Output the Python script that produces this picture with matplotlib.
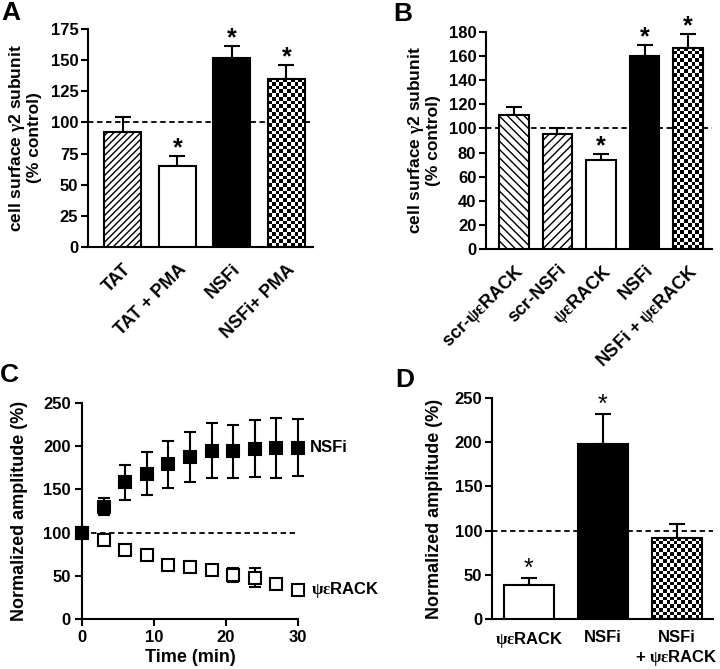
import numpy as np
import matplotlib
matplotlib.use("Agg")
import matplotlib.pyplot as plt

plt.rcParams['font.family'] = ['Liberation Sans', 'DejaVu Sans']
plt.rcParams['font.weight'] = 'bold'
plt.rcParams['axes.labelweight'] = 'bold'
plt.rcParams['mathtext.fontset'] = 'custom'
plt.rcParams['mathtext.rm'] = 'Liberation Serif'
plt.rcParams['mathtext.it'] = 'Liberation Serif:italic'
plt.rcParams['mathtext.bf'] = 'Liberation Serif:bold'
plt.rcParams['hatch.linewidth'] = 1.0
plt.rcParams['axes.linewidth'] = 1.5

PE = r'$\mathrm{ψε}$'

# ---------------- data ----------------
a_labels = ['TAT', 'TAT + PMA', 'NSFi', 'NSFi+ PMA']
a_values = [92, 65, 152, 135]
a_err = [12, 8, 9, 11]
a_sig = [False, True, True, True]

b_labels = ['scr-' + PE + 'RACK', 'scr-NSFi', PE + 'RACK', 'NSFi', 'NSFi + ' + PE + 'RACK']
b_values = [111, 95, 74, 160, 167]
b_err = [7, 5, 5, 9, 11]
b_sig = [False, False, True, True, True]

c_time = [0, 3, 6, 9, 12, 15, 18, 21, 24, 27, 30]
c_nsfi = [100, 130, 158, 168, 179, 188, 195, 194, 197, 198, 198]
c_nsfi_err = [0, 10, 20, 25, 27, 29, 32, 31, 33, 35, 33]
c_rack = [100, 91, 80, 74, 63, 60, 57, 51, 48, 41, 34]
c_rack_err = [0, 2, 5, 3, 3, 3, 5, 8, 11, 5, 5]

d_labels = [PE + 'RACK', 'NSFi', 'NSFi\n+ ' + PE + 'RACK']
d_values = [38, 198, 92]
d_err = [8, 34, 15]
d_sig = [True, True, False]

fig = plt.figure(figsize=(7.2, 6.69), dpi=100)

TICK_FS = 12
LAB_FS = 12.5


def style_axes(ax):
    for s in ['top', 'right']:
        ax.spines[s].set_visible(False)
    ax.tick_params(axis='y', direction='out', length=5, width=1.5, labelsize=TICK_FS, pad=2)
    ax.tick_params(axis='x', direction='out', length=0, width=1.5, labelsize=TICK_FS)


def checker(ax, bar, sq=3.7):
    x0, y0 = bar.get_x(), bar.get_y()
    w, h = bar.get_width(), bar.get_height()
    p0 = ax.transData.transform((x0, y0))
    p1 = ax.transData.transform((x0 + w, y0 + h))
    nc = max(1, int(round(abs(p1[0] - p0[0]) / sq)))
    nr = max(1, int(round(abs(p1[1] - p0[1]) / sq)))
    arr = np.add.outer(np.arange(nr), np.arange(nc)) % 2
    im = ax.imshow(arr, cmap='gray', vmin=0, vmax=1, extent=(x0, x0 + w, y0, y0 + h),
                   aspect='auto', interpolation='nearest', origin='lower', zorder=2.5)
    im.set_clip_path(bar)


def bar_panel(ax, values, errs, styles, xlim, ylim, width=0.68):
    ax.set_xlim(*xlim)
    ax.set_ylim(*ylim)
    x = np.arange(len(values))
    ax.axhline(100, color='black', lw=1.3, ls=(0, (3, 2)), zorder=1)
    ax.errorbar(x, values, yerr=[np.zeros(len(errs)), errs], fmt='none', ecolor='black',
                elinewidth=1.5, capsize=5.5, capthick=1.5, zorder=2)
    for xi, v, st in zip(x, values, styles):
        if st == 'black':
            ax.bar(xi, v, width, color='black', edgecolor='black', lw=1.5, zorder=3)
        elif st == 'white':
            ax.bar(xi, v, width, color='white', edgecolor='black', lw=1.5, zorder=3)
        elif st == 'checker':
            b = ax.bar(xi, v, width, color='white', edgecolor='none', lw=0, zorder=2.4)[0]
            checker(ax, b)
            ax.bar(xi, v, width, fill=False, edgecolor='black', lw=1.5, zorder=3)
        else:
            ax.bar(xi, v, width, color='white', edgecolor='black', hatch=st, lw=1.5, zorder=3)
    ax.set_xlim(*xlim)
    ax.set_ylim(*ylim)
    return x


def stars(ax, xs, values, errs, sig, weight, off=-3):
    for xi, v, e, s in zip(xs, values, errs, sig):
        if s:
            ax.annotate('*', (xi, v + e), xytext=(0, off), textcoords='offset points', ha='center',
                        va='bottom', fontsize=18, fontweight=weight)


YLAB_AB = 'cell surface $\\mathrm{γ}$2 subunit\n(% control)'

# ---------------- Panel A ----------------
axA = fig.add_axes([88 / 720, 1 - 247 / 669, 225 / 720, 218 / 669])
style_axes(axA)
xa = bar_panel(axA, a_values, a_err, ['/////', 'white', 'black', 'checker'], (-0.64, 3.49), (0, 175))
axA.set_yticks([0, 25, 50, 75, 100, 125, 150, 175])
axA.set_xticks(xa)
axA.set_xticklabels(a_labels, rotation=45, ha='right', rotation_mode='anchor', fontsize=13)
axA.tick_params(axis='x', pad=10)
axA.set_ylabel(YLAB_AB, fontsize=LAB_FS, linespacing=1.0)
axA.yaxis.set_label_coords(-0.205, 0.5)
stars(axA, xa, a_values, a_err, a_sig, 'bold')

# ---------------- Panel B ----------------
axB = fig.add_axes([486 / 720, 1 - 249 / 669, 226 / 720, 217 / 669])
style_axes(axB)
xb = bar_panel(axB, b_values, b_err, ['\\\\\\\\', '////', 'white', 'black', 'checker'], (-0.64, 4.55), (0, 180))
axB.set_yticks(np.arange(0, 181, 20))
axB.set_xticks(xb)
axB.set_xticklabels(b_labels, rotation=45, ha='right', rotation_mode='anchor', fontsize=13)
axB.tick_params(axis='x', pad=9)
axB.set_ylabel(YLAB_AB, fontsize=LAB_FS, linespacing=1.0)
axB.yaxis.set_label_coords(-0.2, 0.5)
stars(axB, xb, b_values, b_err, b_sig, 'bold')

# ---------------- Panel C ----------------
axC = fig.add_axes([82 / 720, 1 - 619 / 669, 216 / 720, 216 / 669])
for s in ['top', 'right']:
    axC.spines[s].set_visible(False)
axC.tick_params(direction='out', length=5, width=1.5, labelsize=TICK_FS, pad=3)
axC.set_xlim(0, 30)
axC.set_ylim(0, 250)
axC.plot([0, 30], [100, 100], color='black', lw=1.3, ls=(0, (3, 2)), zorder=1)
axC.errorbar(c_time, c_rack, yerr=c_rack_err, fmt='s', mfc='white', mec='black', mew=1.5, ms=8,
             ecolor='black', elinewidth=1.5, capsize=4.5, capthick=1.5, zorder=3, clip_on=False)
axC.errorbar(c_time, c_nsfi, yerr=c_nsfi_err, fmt='s', mfc='black', mec='black', mew=1.5, ms=8,
             ecolor='black', elinewidth=1.5, capsize=4.5, capthick=1.5, zorder=4, clip_on=False)
axC.set_xticks([0, 10, 20, 30])
axC.set_yticks([0, 50, 100, 150, 200, 250])
axC.set_xlabel('Time (min)', fontsize=LAB_FS + 0.5, labelpad=3)
axC.set_ylabel('Normalized amplitude (%)', fontsize=LAB_FS + 0.5)
axC.yaxis.set_label_coords(-0.25, 0.5)
axC.text(31.6, c_nsfi[-1], 'NSFi', ha='left', va='center', fontsize=TICK_FS)
axC.text(31.8, c_rack[-1], PE + 'RACK', ha='left', va='center', fontsize=TICK_FS)

# ---------------- Panel D ----------------
axD = fig.add_axes([492 / 720, 1 - 619 / 669, 221 / 720, 221 / 669])
style_axes(axD)
xd = bar_panel(axD, d_values, d_err, ['white', 'black', 'checker'], (-0.5, 2.49), (0, 250))
axD.set_yticks([0, 50, 100, 150, 200, 250])
axD.set_xticks(xd)
axD.set_xticklabels(d_labels, fontsize=TICK_FS, linespacing=1.2, va='top')
axD.tick_params(axis='x', pad=8)
axD.set_ylabel('Normalized amplitude (%)', fontsize=LAB_FS + 0.5)
axD.yaxis.set_label_coords(-0.22, 0.5)
stars(axD, xd, d_values, d_err, d_sig, 'normal', off=-2)

# panel letters
for lab, x, y in [('A', 1, 1), ('B', 393, 2), ('C', 0, 363), ('D', 395, 368)]:
    fig.text(x / 720, 1 - y / 669, lab, fontsize=19, fontweight='bold', ha='left', va='top')

fig.savefig('out.png', dpi=100)
